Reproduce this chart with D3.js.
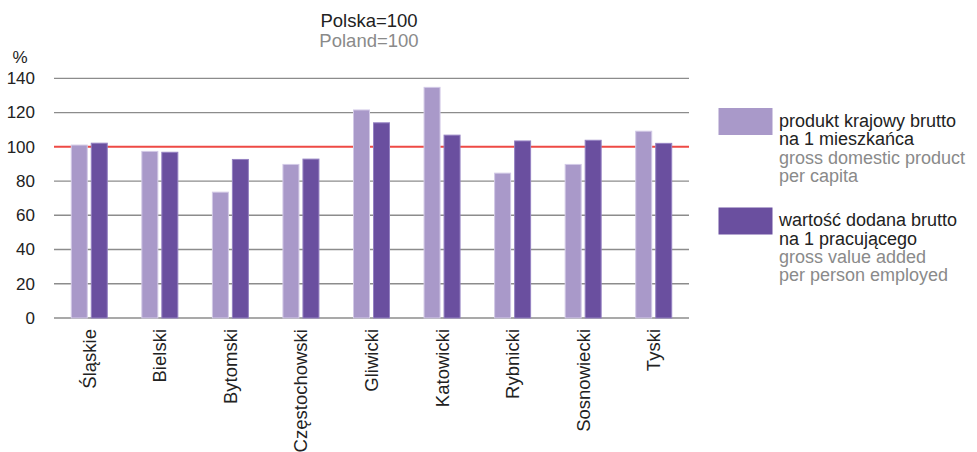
<!DOCTYPE html>
<html>
<head>
<meta charset="utf-8">
<script src="https://cdn.jsdelivr.net/npm/d3@7"></script>
<style>
  body { margin: 0; background: #fff; }
  svg { display: block; font-family: "Liberation Sans", Arial, sans-serif; }
</style>
</head>
<body>
<svg width="977" height="452"></svg>
<script>
// data
var regions = ['Śląskie', 'Bielski', 'Bytomski', 'Częstochowski', 'Gliwicki', 'Katowicki', 'Rybnicki', 'Sosnowiecki', 'Tyski'];
var gdpPerCapita = [101, 97.3, 73.5, 89.7, 121.5, 134.7, 84.6, 89.7, 109.1];
var gvaPerEmployed = [102.1, 96.8, 92.6, 92.8, 114, 106.8, 103.4, 103.8, 102];
var yTicks = [0, 20, 40, 60, 80, 100, 120, 140];
var seriesNames = ['gdp', 'gva'];
var legendPl = [['produkt krajowy brutto', 'na 1 mieszkańca'], ['wartość dodana brutto', 'na 1 pracującego']];
var legendEn = [['gross domestic product', 'per capita'], ['gross value added', 'per person employed']];

var colors = ['#a999c9', '#6a4f9f'];
var strokes = ['#d2c9e6', '#9582c2'];

var svg = d3.select('svg');
var pL = 54, pR = 689, pT = 78.3, pB = 318;

var x = d3.scaleBand().domain(regions).range([pL, pR]);
var bw = x.bandwidth();
var x1 = d3.scaleBand().domain(seriesNames).range([bw / 2 - 18, bw / 2 + 18]).paddingInner(0.2);
var y = d3.scaleLinear().domain([0, 140]).range([pB, pT]);

// title
svg.append('text').attr('x', 369).attr('y', 26.5).attr('text-anchor', 'middle')
  .attr('font-size', 18.5).attr('fill', '#222').text('Polska=100');
svg.append('text').attr('x', 369).attr('y', 46.5).attr('text-anchor', 'middle')
  .attr('font-size', 18.5).attr('fill', '#8a8a8a').text('Poland=100');

// y unit
svg.append('text').attr('x', 20).attr('y', 63).attr('text-anchor', 'middle')
  .attr('font-size', 17).attr('fill', '#222').text('%');

// grid
svg.append('g').selectAll('line').data(yTicks).enter().append('line')
  .attr('x1', pL).attr('x2', pR)
  .attr('y1', function(d) { return y(d); }).attr('y2', function(d) { return y(d); })
  .attr('stroke', function(d) { return d === 100 ? '#ee4a45' : '#8c8c8c'; })
  .attr('stroke-width', function(d) { return d === 100 ? 2 : 1.3; });

// y labels
svg.append('g').selectAll('text').data(yTicks).enter().append('text')
  .attr('x', 35).attr('y', function(d) { return y(d); }).attr('dy', '0.35em')
  .attr('text-anchor', 'end').attr('font-size', 17).attr('fill', '#222')
  .text(function(d) { return d; });

// bars
var rows = regions.map(function(r, i) { return { region: r, values: [gdpPerCapita[i], gvaPerEmployed[i]] }; });
var groups = svg.append('g').selectAll('g').data(rows).enter().append('g')
  .attr('transform', function(d) { return 'translate(' + x(d.region) + ',0)'; });
groups.selectAll('rect').data(function(d) { return d.values.map(function(v, k) { return { k: k, v: v }; }); })
  .enter().append('rect')
  .attr('x', function(d) { return x1(seriesNames[d.k]); })
  .attr('width', x1.bandwidth())
  .attr('y', function(d) { return y(d.v); })
  .attr('height', function(d) { return pB - y(d.v); })
  .attr('fill', function(d) { return colors[d.k]; })
  .attr('stroke', function(d) { return strokes[d.k]; })
  .attr('stroke-width', 1);

// x labels
svg.append('g').selectAll('text').data(regions).enter().append('text')
  .attr('transform', function(d) { return 'translate(' + (x(d) + bw / 2) + ',329) rotate(-90)'; })
  .attr('dy', '0.35em').attr('text-anchor', 'end').attr('font-size', 18.5).attr('fill', '#222')
  .text(function(d) { return d; });

// legend
var lg = svg.append('g').selectAll('g').data(seriesNames).enter().append('g')
  .attr('transform', function(d, i) { return 'translate(0,' + (i * 99.5) + ')'; });
lg.append('rect').attr('x', 718.5).attr('y', 108).attr('width', 54).attr('height', 27)
  .attr('fill', function(d, i) { return colors[i]; });
lg.each(function(d, i) {
  var g = d3.select(this);
  var lines = legendPl[i].map(function(t) { return { t: t, c: '#222' }; })
    .concat(legendEn[i].map(function(t) { return { t: t, c: '#8a8a8a' }; }));
  g.selectAll('text').data(lines).enter().append('text')
    .attr('x', 779).attr('y', function(l, j) { return 126.7 + j * 18.4; })
    .attr('font-size', 18).attr('fill', function(l) { return l.c; })
    .text(function(l) { return l.t; });
});
</script>
</body>
</html>
